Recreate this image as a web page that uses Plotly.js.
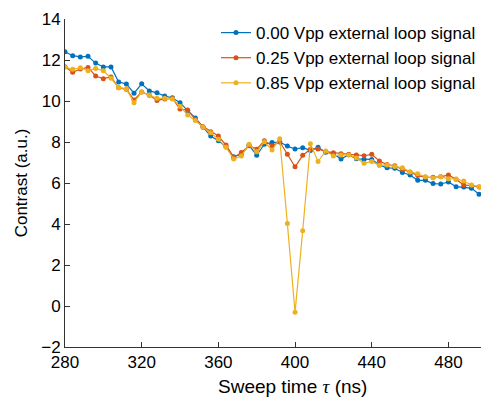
<!DOCTYPE html>
<html>
<head>
<meta charset="utf-8">
<script src="https://cdn.plot.ly/plotly-3.0.1.min.js"></script>
<style>html,body{margin:0;padding:0;background:#fff;}#chart{width:481px;height:399px;}</style>
</head>
<body>
<div id="chart"></div>
<script>
const sweepTime = [280,284,288,292,296,300,304,308,312,316,320,324,328,332,336,340,344,348,352,356,360,364,368,372,376,380,384,388,392,396,400,404,408,412,416,420,424,428,432,436,440,444,448,452,456,460,464,468,472,476,480,484,488,492,496];
const contrast000 = [12.40,12.21,12.15,12.18,11.85,11.66,11.66,10.93,10.83,10.38,10.84,10.49,10.40,10.24,10.16,9.92,9.53,9.17,8.72,8.29,8.06,7.77,7.28,7.40,7.84,7.35,7.89,7.97,8.00,7.80,7.66,7.72,7.59,7.74,7.50,7.43,7.17,7.38,7.18,7.15,7.15,6.88,6.74,6.72,6.51,6.39,6.13,6.13,5.97,5.95,6.05,5.82,5.80,5.75,5.45];
const contrast025 = [11.67,11.40,11.56,11.64,11.22,11.09,11.17,10.65,10.57,10.05,10.44,10.28,10.03,10.10,10.13,9.61,9.56,9.11,8.75,8.50,8.29,7.85,7.25,7.49,7.82,7.65,8.06,7.82,8.01,7.40,6.79,7.35,7.65,7.66,7.53,7.48,7.43,7.40,7.37,7.33,7.40,7.07,6.90,6.84,6.66,6.54,6.36,6.28,6.28,6.30,6.39,6.18,5.90,5.88,5.80];
const contrast085 = [11.65,11.55,11.62,11.48,11.58,11.48,11.11,10.65,10.60,9.92,10.44,10.29,10.13,10.13,10.10,9.74,9.32,9.05,8.72,8.45,8.13,7.74,7.17,7.32,7.89,7.53,8.01,7.61,8.16,4.02,-0.31,3.67,7.91,7.05,7.56,7.32,7.37,7.37,7.22,6.96,7.05,6.86,6.88,6.80,6.75,6.54,6.45,6.30,6.25,6.30,6.21,6.20,6.10,5.90,5.82];
const seriesNames = ["0.00 Vpp external loop signal","0.25 Vpp external loop signal","0.85 Vpp external loop signal"];
const xTicks = [280,320,360,400,440,480];
const yTicks = [-2,0,2,4,6,8,10,12,14];
const yTickText = ["\u22122","0","2","4","6","8","10","12","14"];

const colors = ["#0072BD","#D95319","#EDB120"];
const ys = [contrast000, contrast025, contrast085];
const traces = ys.map((y,i)=>({
  x: sweepTime, y: y, name: seriesNames[i], type: "scatter", mode: "lines+markers",
  line: {color: colors[i], width: 1.2},
  marker: {color: colors[i], size: 5}
}));
const fam = "Liberation Sans, Arial, sans-serif";
const tickFont = {family: fam, size: 17, color: "#000"};
const layout = {
  width: 481, height: 399,
  margin: {l: 65, r: 0, t: 19, b: 52},
  paper_bgcolor: "#fff", plot_bgcolor: "#fff",
  font: tickFont,
  showlegend: true,
  legend: {x: 1, xanchor: "right", y: 1.012, yanchor: "top", bgcolor: "rgba(0,0,0,0)", font: {family: fam, size: 17, color: "#000"}, tracegroupgap: 0},
  xaxis: {
    range: [280, 497], tickvals: xTicks, ticks: "inside", ticklen: 5, tickcolor: "#333",
    showline: true, linecolor: "#333", linewidth: 1, showgrid: false, zeroline: false,
    tickfont: tickFont
  },
  yaxis: {
    range: [-2, 14], tickvals: yTicks, ticktext: yTickText, ticks: "inside", ticklen: 5, tickcolor: "#333",
    showline: true, linecolor: "#333", linewidth: 1, showgrid: false, zeroline: false,
    tickfont: tickFont,
    title: {text: "Contrast (a.u.)", font: {family: fam, size: 17, color: "#000"}, standoff: 9}
  },
  annotations: [{
    text: "Sweep time <span style=\"font-family:Liberation Serif,serif\"><i>τ</i></span> (ns)",
    xref: "paper", yref: "paper", x: 0.546, y: -0.12, xanchor: "center", yanchor: "middle",
    showarrow: false, font: {family: fam, size: 19, color: "#000"}
  }]
};
Plotly.newPlot("chart", traces, layout, {displayModeBar: false, staticPlot: true});
</script>
</body>
</html>
